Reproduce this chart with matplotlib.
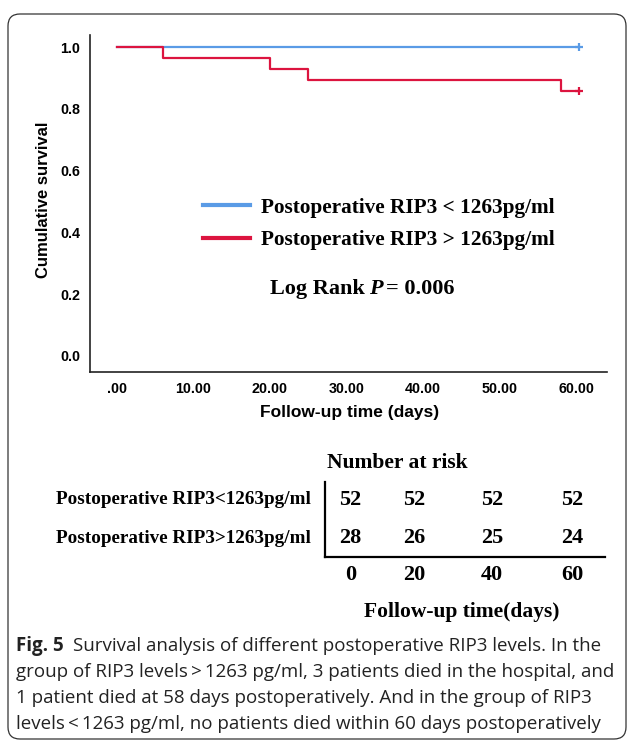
# Kaplan-Meier curve for postoperative RIP3 groups, with number-at-risk table

import matplotlib
matplotlib.use("Agg")
import matplotlib.pyplot as plt
from matplotlib.lines import Line2D
from matplotlib.patches import FancyBboxPatch
from matplotlib.transforms import IdentityTransform

# survival steps
low_times = [0, 60.3]
low_surv = [1.0, 1.0]
high_times = [0, 6, 20, 25, 58, 60.3]
high_surv = [1.0, 0.964, 0.929, 0.893, 0.857, 0.857]

x_ticks = [0, 10, 20, 30, 40, 50, 60]
x_tick_labels = [".00", "10.00", "20.00", "30.00", "40.00", "50.00", "60.00"]
y_ticks = [0.0, 0.2, 0.4, 0.6, 0.8, 1.0]

group_names = ["Postoperative RIP3 < 1263pg/ml", "Postoperative RIP3 > 1263pg/ml"]
risk_names = ["Postoperative RIP3<1263pg/ml", "Postoperative RIP3>1263pg/ml"]
risk_times = [0, 20, 40, 60]
risk_low = [52, 52, 52, 52]
risk_high = [28, 26, 25, 24]

caption_lines = [
    "Survival analysis of different postoperative RIP3 levels. In the",
    "group of RIP3 levels\u2009>\u20091263 pg/ml, 3 patients died in the hospital, and",
    "1 patient died at 58 days postoperatively. And in the group of RIP3",
    "levels\u2009<\u20091263 pg/ml, no patients died within 60 days postoperatively",
]

BLUE = "#5A9BE6"
RED = "#DC143F"
W, H = 630, 743
SANS = "Liberation Sans"
SERIF = "Liberation Serif"


def fx(px):
    return px / W


def fy(py):
    return 1 - py / H


fig = plt.figure(figsize=(W / 100, H / 100), dpi=100)

# outer rounded frame
frame = FancyBboxPatch((8, H - 739), 618, 725, boxstyle="round,pad=0,rounding_size=12",
                       transform=IdentityTransform(), fill=False, ec="#333333", lw=0.9)
fig.add_artist(frame)

# survival plot
ax = fig.add_axes([fx(90), fy(372), fx(607) - fx(90), fy(35) - fy(372)])
ax.step(low_times, low_surv, where="post", color=BLUE, lw=1.6)
ax.step(high_times, high_surv, where="post", color=RED, lw=1.6)
ax.plot(low_times[-1], low_surv[-1], marker="+", color=BLUE, ms=6, mew=1.6)
ax.plot(high_times[-1], high_surv[-1], marker="+", color=RED, ms=6, mew=1.6)

ax.set_xlim(-3.5, 64)
ax.set_ylim(-0.052, 1.039)
ax.set_xticks(x_ticks)
ax.set_xticklabels(x_tick_labels)
ax.set_yticks(y_ticks)
ax.set_yticklabels([f"{v:.1f}" for v in y_ticks])
ax.tick_params(length=0, pad=7)
for lab in ax.get_xticklabels() + ax.get_yticklabels():
    lab.set_fontfamily(SANS)
    lab.set_fontweight("bold")
    lab.set_fontsize(10.3)
for side in ["top", "right"]:
    ax.spines[side].set_visible(False)
for side in ["left", "bottom"]:
    ax.spines[side].set_linewidth(1.2)
    ax.spines[side].set_color("#222222")

fig.text(fx(350), fy(412), "Follow-up time (days)", family=SANS, weight="bold",
         fontsize=12.5, ha="center", va="center")
fig.text(fx(44), fy(200), "Cumulative survival", family=SANS, weight="bold",
         fontsize=12, ha="center", va="center", rotation=90)

# legend
handles = [Line2D([], [], color=BLUE, lw=3), Line2D([], [], color=RED, lw=3)]
ax.legend(handles, group_names, loc="center left", bbox_to_anchor=(fx(203), fy(224)),
          bbox_transform=fig.transFigure, frameon=False, borderpad=0, borderaxespad=0,
          handlelength=2.2, handletextpad=0.55, labelspacing=0.6,
          prop={"family": SERIF, "weight": "bold", "size": 15.3})

renderer = fig.canvas.get_renderer()


def text_runs(x, y, runs, gap=0):
    # place pieces of text one after another, in pixels
    for s, kw in runs:
        t = fig.text(x, H - y, s, transform=IdentityTransform(), va="center", **kw)
        x = t.get_window_extent(renderer).x1 + gap


serif_b = {"family": SERIF, "weight": "bold", "fontsize": 16}
text_runs(270, 289, [("Log Rank", serif_b), ("P", dict(serif_b, style="italic")),
                     ("= 0.006", serif_b)], gap=4)

# number at risk table (axes spans x 325..605 px, y 482..557 px)
col_x = [0.09, 0.32, 0.597, 0.884]
row_y = [0.76, 0.253]
tab = fig.add_axes([fx(325), fy(557), fx(605) - fx(325), fy(482) - fy(557)])
tab.set_xlim(0, 1)
tab.set_ylim(0, 1)
tab.set_xticks([])
tab.set_yticks([])
for side in ["top", "right"]:
    tab.spines[side].set_visible(False)
for side in ["left", "bottom"]:
    tab.spines[side].set_linewidth(1.6)
tab.patch.set_alpha(0)

tab.text(0.257, 1.25, "Number at risk", family=SERIF, weight="bold", fontsize=15.5,
         ha="center", va="center", clip_on=False)
for y, name, counts in zip(row_y, risk_names, [risk_low, risk_high]):
    tab.text(-0.05, y, name, family=SERIF, weight="bold", fontsize=13.8,
             ha="right", va="center", clip_on=False)
    for x, n in zip(col_x, counts):
        tab.text(x, y, str(n), family=SERIF, weight="bold", fontsize=16,
                 ha="center", va="center", clip_on=False)
for x, t in zip(col_x, risk_times):
    tab.text(x, -0.24, str(t), family=SERIF, weight="bold", fontsize=16,
             ha="center", va="center", clip_on=False)
tab.text(0.49, -0.73, "Follow-up time(days)", family=SERIF, weight="bold", fontsize=15.5,
         ha="center", va="center", clip_on=False)

# caption
cap_font = ["Open Sans", "DejaVu Sans"]
cap_kw = {"family": cap_font, "fontsize": 13.5, "color": "#222222"}
cap_y = [646, 672, 698, 724]
text_runs(16, cap_y[0], [("Fig. 5", dict(cap_kw, weight="bold")), (caption_lines[0], cap_kw)], gap=9)
for y, line in zip(cap_y[1:], caption_lines[1:]):
    fig.text(16, H - y, line, transform=IdentityTransform(), va="center", **cap_kw)

fig.savefig("out.png", dpi=100)
